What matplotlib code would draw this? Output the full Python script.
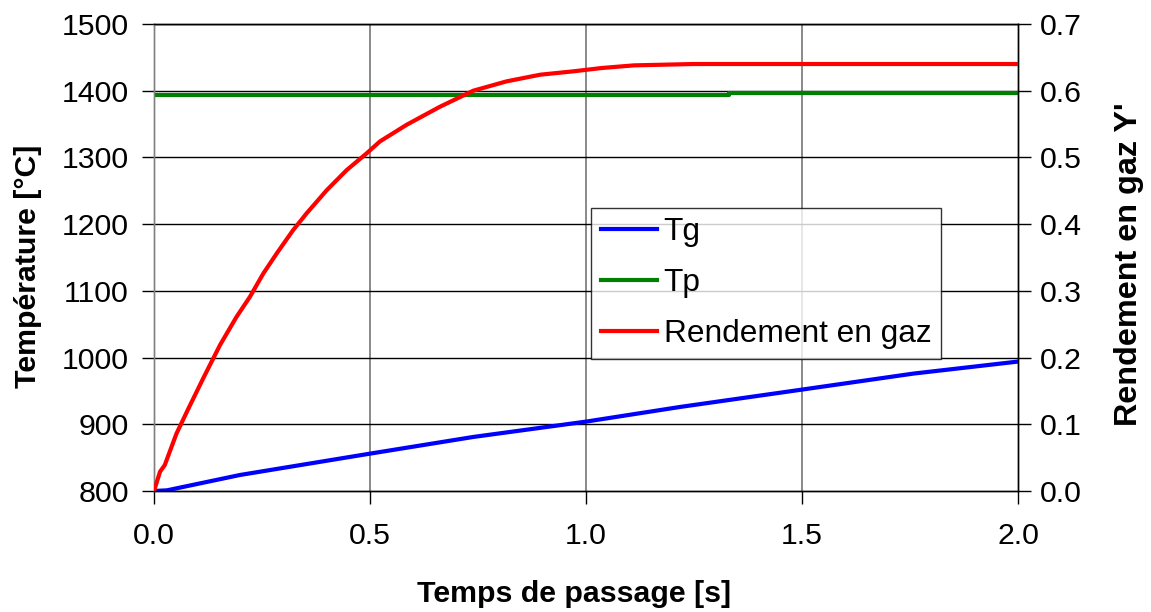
import matplotlib
matplotlib.use("Agg")
import matplotlib.pyplot as plt

plt.rcParams['font.family'] = ['Liberation Sans', 'DejaVu Sans']

# Data
t_g = [0.0, 0.03, 0.199, 0.5, 0.739, 1.0, 1.218, 1.5, 1.758, 2.0]
Tg = [800, 801, 824, 856, 881, 904, 926, 952, 976, 994]

t_p = [0.0, 1.33, 2.0]
Tp = [1393.5, 1396.5, 1396.5]

t_y = [0.0, 0.014, 0.025, 0.052, 0.080, 0.114, 0.153, 0.191, 0.222, 0.253,
       0.284, 0.322, 0.353, 0.400, 0.446, 0.492, 0.523, 0.585, 0.662, 0.739,
       0.816, 0.894, 0.970, 1.036, 1.111, 1.248, 2.0]
Yg = [0.0, 0.029, 0.039, 0.086, 0.124, 0.169, 0.219, 0.261, 0.291, 0.326,
      0.356, 0.391, 0.416, 0.451, 0.481, 0.506, 0.524, 0.549, 0.576, 0.600,
      0.614, 0.624, 0.629, 0.634, 0.638, 0.640, 0.640]

x_ticks = [0.0, 0.5, 1.0, 1.5, 2.0]
y_left_ticks = [800, 900, 1000, 1100, 1200, 1300, 1400, 1500]
y_right_ticks = [0.0, 0.1, 0.2, 0.3, 0.4, 0.5, 0.6, 0.7]

FS = 21.8
fig = plt.figure(figsize=(11.51, 6.12), dpi=100)
ax = fig.add_axes([154/1151, 1-491/612, (1018-154)/1151, (491-24)/612])
ax2 = ax.twinx()

l1, = ax.plot(t_g, Tg, color='#0000ff', lw=3.0, label='Tg', zorder=3)
l2, = ax.plot(t_p, Tp, color='#008000', lw=3.0, label='Tp', drawstyle='steps-post', zorder=3)
l3, = ax2.plot(t_y, Yg, color='#ff0000', lw=3.0, label='Rendement en gaz', zorder=3)

ax.set_xlim(0, 2.0)
ax.set_ylim(800, 1500)
ax2.set_ylim(0, 0.7)
ax.set_xticks(x_ticks)
ax.set_xticklabels([f"{v:.1f}" for v in x_ticks])
ax.set_yticks(y_left_ticks)
ax.set_yticklabels([str(v) for v in y_left_ticks])
ax2.set_yticks(y_right_ticks)
ax2.set_yticklabels([f"{v:.1f}" for v in y_right_ticks])

# grid
for v in x_ticks[1:-1]:
    ax.axvline(v, color='#808080', lw=1.3, zorder=1)
for v in y_left_ticks[1:]:
    ax.axhline(v, color='black', lw=1.0, zorder=1)

for a in (ax, ax2):
    a.spines['top'].set_color('black')
    a.spines['bottom'].set_color('black')
    a.spines['left'].set_color('#808080')
    a.spines['right'].set_color('black')
    for s in a.spines.values():
        s.set_linewidth(1.0)

ax.tick_params(axis='both', direction='out', length=9, width=1.0, labelsize=FS, color='black')
ax.tick_params(axis='y', pad=9)
ax.tick_params(axis='x', pad=13)
ax2.tick_params(axis='y', direction='out', length=9, width=1.0, labelsize=FS, pad=7)

ax.set_xlabel('Temps de passage [s]', fontsize=FS, fontweight='bold', labelpad=22)
ax.xaxis.label.set_x((574 - 154) / 864)
ax.set_ylabel('Température [°C]', fontsize=FS, fontweight='bold', labelpad=14)
ax.yaxis.label.set_y((491 - 266.5) / 467)
ax2.set_ylabel("Rendement en gaz Y'", fontsize=23.3, fontweight='bold', labelpad=23)
ax2.yaxis.label.set_y((491 - 264.5) / 467)

leg = ax2.legend(handles=[l1, l2, l3], loc='upper left',
                 bbox_to_anchor=(0.506, 0.606), borderaxespad=0,
                 fontsize=22.8, frameon=True, fancybox=False, shadow=False,
                 handlelength=1.77, handletextpad=0.22, labelspacing=0.66,
                 borderpad=0.3)
leg.get_frame().set_edgecolor('black')
leg.get_frame().set_linewidth(1.0)

fig.savefig('out.png', dpi=100)
